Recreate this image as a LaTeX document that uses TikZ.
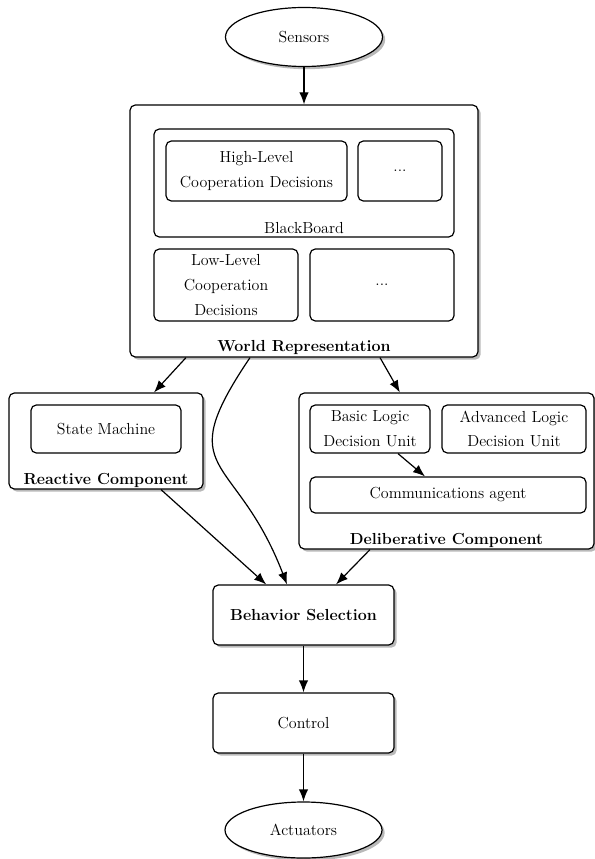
\documentclass[tikz,border=0pt]{standalone}
\usepackage{tikz}
\usetikzlibrary{shapes.geometric}
\usetikzlibrary{shadows}
\usetikzlibrary{arrows.meta}

\begin{document}
\begin{tikzpicture}[line width=0.9pt, x=0.75pt, y=-0.75pt,
        font=\fontsize{12}{18.5}\selectfont,
        box/.style={draw, rounded corners=4pt, fill=white, align=center, inner sep=0pt},
        outerbox/.style={box, drop shadow={shadow xshift=2pt, shadow yshift=-2pt, fill=black!50, opacity=0.55}},
        io/.style={draw, ellipse, fill=white, inner sep=0pt, drop shadow={shadow xshift=2pt, shadow yshift=-2pt, fill=black!50, opacity=0.55}},
        lbl/.style={font=\fontsize{12}{14}\selectfont\bfseries},
        arr/.style={-{Latex[length=9pt,width=7pt]}}]
        \useasboundingbox (0,0) rectangle (595,859);

        \node[io, minimum width=117.75pt, minimum height=44.25pt] (sensors) at (304,37) {Sensors};

        % world representation
        \node[outerbox, minimum width=261pt, minimum height=189pt] (world) at (304,231) {};
        \node[box, minimum width=225pt, minimum height=81pt] (board) at (304,183) {};
        \node[box, minimum width=135.75pt, minimum height=45pt] (high) at (256.5,171) {High-Level\\Cooperation Decisions};
        \node[box, minimum width=63pt, minimum height=45pt] (highmore) at (400,171) {...};
        \node (boardlbl) at ([yshift=7.5pt]board.south) {BlackBoard};
        \node[box, minimum width=108pt, minimum height=54pt] (low) at (226,285) {Low-Level\\Cooperation\\Decisions};
        \node[box, minimum width=108pt, minimum height=54pt] (lowmore) at (382,285) {...};
        \node[lbl] (worldlbl) at ([yshift=7.5pt]world.south) {World Representation};

        % reactive
        \node[outerbox, minimum width=145.5pt, minimum height=72pt] (reactive) at (106,441) {};
        \node[box, minimum width=112.5pt, minimum height=36pt] (state) at (106,429) {State Machine};
        \node[lbl] (reactivelbl) at ([yshift=6.75pt]reactive.south) {Reactive Component};

        % deliberative
        \node[outerbox, minimum width=221.25pt, minimum height=117pt] (delib) at (446.5,471) {};
        \node[box, minimum width=90pt, minimum height=36pt] (basic) at (370,429) {Basic Logic\\Decision Unit};
        \node[box, minimum width=108pt, minimum height=36pt] (advanced) at (514,429) {Advanced Logic\\Decision Unit};
        \node[box, minimum width=207pt, minimum height=27pt] (comm) at (448,495) {Communications agent};
        \node[lbl] (deliblbl) at ([yshift=6.75pt]delib.south) {Deliberative Component};

        \node[outerbox, lbl, minimum width=135.75pt, minimum height=45pt] (behavior) at (303.5,615) {Behavior Selection};
        \node[outerbox, minimum width=135.75pt, minimum height=45pt] (control) at (303.5,723) {Control};
        \node[io, minimum width=117.75pt, minimum height=42pt] (actuators) at (303.5,830) {Actuators};

        \draw[arr] (sensors) -- (world);
        \draw[arr] ([xshift=-88.5pt]world.south) -- ([xshift=36pt]reactive.north);
        \draw[arr] ([xshift=57pt]world.south) -- ([xshift=-35pt]delib.north);
        \draw[arr] ([xshift=-40.5pt]world.south) to[out=236, in=111, looseness=1.6] ([xshift=-12.4pt]behavior.north);
        \draw[arr] ([xshift=21pt]basic.south) -- ([xshift=-17.25pt]comm.north);
        \draw[arr] ([xshift=41.25pt]reactive.south) -- ([xshift=-28pt]behavior.north);
        \draw[arr] ([xshift=-57.4pt]delib.south) -- ([xshift=24.4pt]behavior.north);
        \draw[arr] (behavior) -- (control);
        \draw[arr] (control) -- (actuators);
\end{tikzpicture}
\end{document}
